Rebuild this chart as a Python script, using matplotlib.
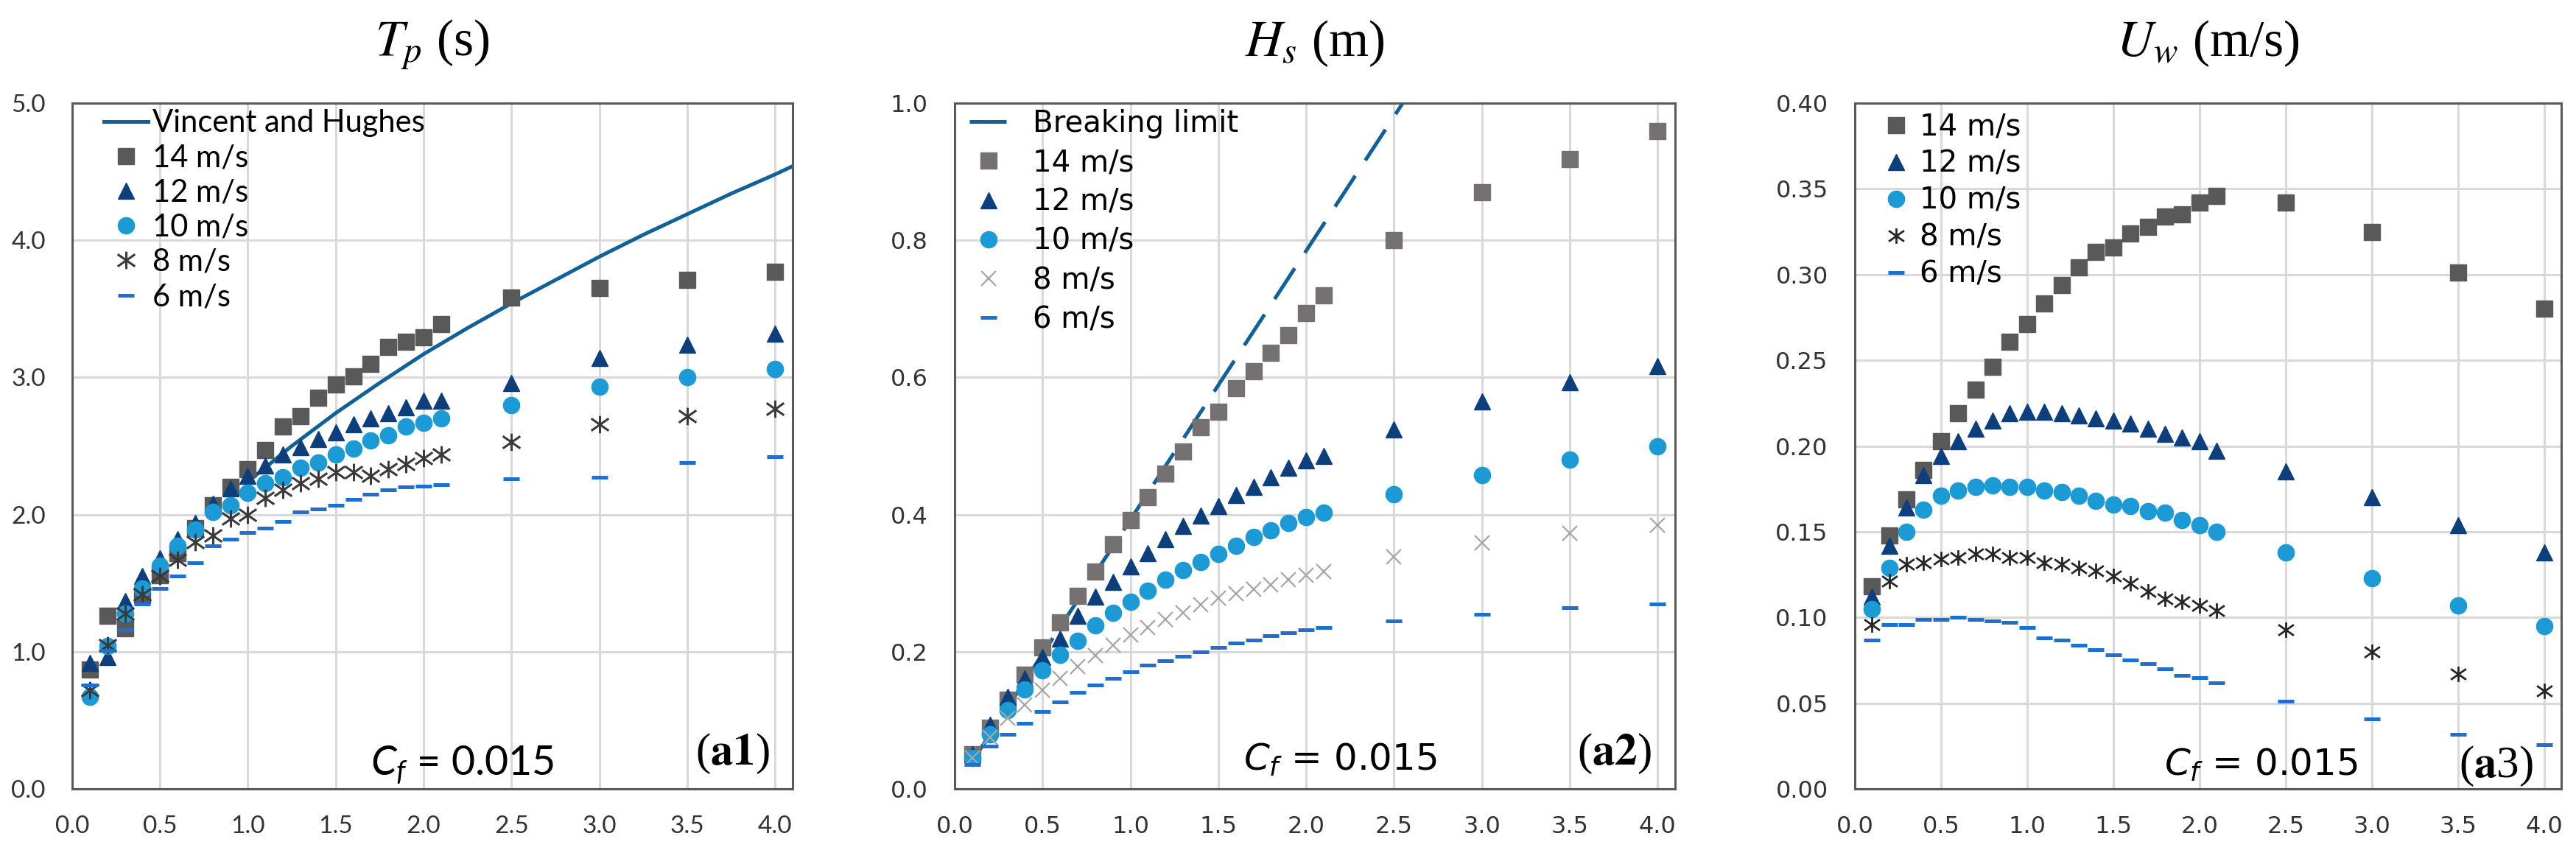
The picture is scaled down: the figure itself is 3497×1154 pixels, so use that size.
import matplotlib
matplotlib.use("Agg")
import matplotlib.pyplot as plt
from matplotlib.path import Path
from matplotlib.ticker import MultipleLocator, FormatStrFormatter

plt.rcParams['mathtext.fontset'] = 'custom'
plt.rcParams['mathtext.it'] = 'Lato:italic'
plt.rcParams['mathtext.rm'] = 'Lato'

# ---- data ----
x = [0.1, 0.2, 0.3, 0.4, 0.5, 0.6, 0.7, 0.8, 0.9, 1.0, 1.1, 1.2, 1.3, 1.4, 1.5,
     1.6, 1.7, 1.8, 1.9, 2.0, 2.1, 2.5, 3.0, 3.5, 4.0]
labels = ['14 m/s', '12 m/s', '10 m/s', '8 m/s', '6 m/s']

tp_14 = [0.87, 1.26, 1.17, 1.41, 1.56, 1.72, 1.90, 2.07, 2.20, 2.33, 2.47, 2.64, 2.72, 2.85, 2.95,
         3.01, 3.10, 3.22, 3.26, 3.29, 3.39, 3.58, 3.65, 3.71, 3.77]
tp_12 = [0.92, 0.96, 1.37, 1.55, 1.68, 1.82, 1.94, 2.08, 2.19, 2.28, 2.36, 2.44, 2.49, 2.55, 2.60,
         2.66, 2.70, 2.74, 2.78, 2.83, 2.83, 2.96, 3.14, 3.24, 3.32]
tp_10 = [0.67, 1.04, 1.28, 1.46, 1.63, 1.77, 1.89, 2.02, 2.07, 2.16, 2.23, 2.27, 2.34, 2.38, 2.44,
         2.48, 2.54, 2.58, 2.64, 2.67, 2.70, 2.80, 2.93, 3.00, 3.06]
tp_8 = [0.72, 1.05, 1.28, 1.42, 1.55, 1.67, 1.80, 1.85, 1.97, 2.00, 2.12, 2.18, 2.23, 2.26, 2.31,
        2.31, 2.28, 2.33, 2.37, 2.41, 2.44, 2.53, 2.66, 2.72, 2.77]
tp_6 = [0.76, 1.01, 1.16, 1.35, 1.46, 1.55, 1.65, 1.77, 1.82, 1.87, 1.90, 1.95, 2.02, 2.04, 2.07,
        2.11, 2.15, 2.18, 2.20, 2.21, 2.22, 2.26, 2.27, 2.38, 2.42]
vh_x = [1.0, 1.25, 1.5, 1.75, 2.0, 2.25, 2.5, 2.75, 3.0, 3.25, 3.5, 3.75, 4.0, 4.1]
vh_y = [2.24, 2.50, 2.74, 2.96, 3.17, 3.36, 3.54, 3.71, 3.88, 4.04, 4.19, 4.34, 4.48, 4.54]

hs_14 = [0.050, 0.089, 0.130, 0.167, 0.206, 0.243, 0.281, 0.317, 0.357, 0.392, 0.425, 0.460, 0.492,
         0.527, 0.550, 0.584, 0.609, 0.636, 0.662, 0.694, 0.720, 0.800, 0.870, 0.918, 0.959]
hs_12 = [0.050, 0.093, 0.134, 0.161, 0.192, 0.219, 0.252, 0.280, 0.302, 0.324, 0.344, 0.364, 0.383,
         0.398, 0.413, 0.429, 0.440, 0.454, 0.468, 0.479, 0.486, 0.524, 0.565, 0.593, 0.617]
hs_10 = [0.045, 0.079, 0.115, 0.145, 0.173, 0.195, 0.216, 0.239, 0.257, 0.273, 0.289, 0.305, 0.319,
         0.331, 0.343, 0.355, 0.367, 0.377, 0.388, 0.396, 0.403, 0.430, 0.458, 0.480, 0.500]
hs_8 = [0.045, 0.075, 0.103, 0.123, 0.144, 0.161, 0.178, 0.194, 0.209, 0.225, 0.235, 0.247, 0.257,
        0.269, 0.278, 0.285, 0.291, 0.298, 0.305, 0.312, 0.317, 0.338, 0.359, 0.373, 0.385]
hs_6 = [0.036, 0.062, 0.079, 0.096, 0.113, 0.127, 0.141, 0.151, 0.161, 0.171, 0.180, 0.187, 0.193,
        0.200, 0.206, 0.213, 0.217, 0.223, 0.228, 0.232, 0.235, 0.245, 0.255, 0.264, 0.270]
bl_x = [0.1, 2.55]
bl_y = [0.04, 1.00]

uw_14 = [0.118, 0.148, 0.169, 0.186, 0.203, 0.219, 0.233, 0.246, 0.261, 0.271, 0.283, 0.294, 0.304,
         0.313, 0.316, 0.324, 0.328, 0.334, 0.335, 0.342, 0.346, 0.342, 0.325, 0.301, 0.280]
uw_12 = [0.112, 0.142, 0.164, 0.183, 0.194, 0.203, 0.210, 0.215, 0.219, 0.220, 0.220, 0.219, 0.218,
         0.216, 0.215, 0.213, 0.210, 0.207, 0.205, 0.203, 0.197, 0.185, 0.170, 0.154, 0.138]
uw_10 = [0.105, 0.129, 0.150, 0.163, 0.171, 0.174, 0.176, 0.177, 0.176, 0.176, 0.174, 0.173, 0.171,
         0.168, 0.166, 0.165, 0.162, 0.161, 0.157, 0.154, 0.150, 0.138, 0.123, 0.107, 0.095]
uw_8 = [0.096, 0.121, 0.131, 0.132, 0.134, 0.135, 0.137, 0.137, 0.135, 0.135, 0.132, 0.131, 0.129,
        0.127, 0.124, 0.120, 0.115, 0.111, 0.109, 0.107, 0.104, 0.093, 0.080, 0.067, 0.057]
uw_6 = [0.087, 0.096, 0.096, 0.099, 0.099, 0.100, 0.099, 0.098, 0.097, 0.094, 0.088, 0.087, 0.084,
        0.081, 0.078, 0.075, 0.073, 0.070, 0.066, 0.065, 0.062, 0.051, 0.041, 0.032, 0.026]

# ---- styles ----
grey_dark = '#595959'
navy = '#0D3F7C'
sky = '#1C9AD6'
dash_blue = '#1F6FD1'
line_blue = '#10609A'
asterisk = Path([(-1, -0.7), (1, 0.7), (-1, 0.7), (1, -0.7), (0, -1), (0, 1)],
                [Path.MOVETO, Path.LINETO] * 3)

fig = plt.figure(figsize=(34.98, 11.54), dpi=100)
bottom, height = 0.0719, 0.8068
ax1 = fig.add_axes([0.0280, bottom, 0.2796, height])
ax2 = fig.add_axes([0.3705, bottom, 0.2796, height])
ax3 = fig.add_axes([0.7198, bottom, 0.2742, height])


def style_axes(ax, ymax, ystep, yfmt, font, size):
    ax.set_xlim(0, 4.1)
    ax.set_ylim(0, ymax)
    ax.xaxis.set_major_locator(MultipleLocator(0.5))
    ax.yaxis.set_major_locator(MultipleLocator(ystep))
    ax.xaxis.set_major_formatter(FormatStrFormatter('%.1f'))
    ax.yaxis.set_major_formatter(FormatStrFormatter(yfmt))
    ax.grid(True, color='#D9D9D9', linewidth=2.2, zorder=0)
    ax.set_axisbelow(True)
    ax.tick_params(length=0, pad=26, labelsize=size, labelcolor='#333333')
    for lab in ax.get_xticklabels() + ax.get_yticklabels():
        lab.set_family(font)
    for sp in ax.spines.values():
        sp.set_color(grey_dark)
        sp.set_linewidth(2.2)


def draw_series(ax, ys, colors, ast_marker, ast_size, ast_mew):
    kw = dict(linestyle='none', zorder=3)
    ax.plot(x, ys[0], marker='s', markersize=15.5, color=colors[0], label=labels[0], **kw)
    ax.plot(x, ys[1], marker='^', markersize=15.5, color=navy, label=labels[1], **kw)
    ax.plot(x, ys[2], marker='o', markersize=16, color=sky, label=labels[2], **kw)
    ax.plot(x, ys[3], marker=ast_marker, markersize=ast_size, markeredgewidth=ast_mew,
            color=colors[1], label=labels[3], **kw)
    ax.plot(x, ys[4], marker='_', markersize=16, markeredgewidth=3.6, color=dash_blue,
            label=labels[4], **kw)


def panel_tag(ax, text, xf, yf):
    ax.text(xf, yf, text, transform=ax.transAxes, fontsize=44, family='Liberation Serif',
            math_fontfamily='stix', ha='right', va='baseline')


# panel a1: Tp
style_axes(ax1, 5.0, 1.0, '%.1f', 'Lato', 24)
ax1.plot(vh_x, vh_y, color=line_blue, linewidth=3.6, label='Vincent and Hughes', zorder=2)
draw_series(ax1, [tp_14, tp_12, tp_10, tp_8, tp_6], [grey_dark, '#3A3A3A'], asterisk, 17, 2.2)
ax1.legend(loc='upper left', bbox_to_anchor=(0.035, 1.0), frameon=False, borderpad=0.2,
           borderaxespad=0, handlelength=1.45, handletextpad=0.15, labelspacing=0.22,
           prop={'family': 'Lato', 'size': 30})
ax1.text(0.414, 0.021, r'$C_f$ = 0.015', transform=ax1.transAxes, fontsize=40,
         family='Lato', math_fontfamily='custom', ha='left', va='baseline')
panel_tag(ax1, r'($\mathbf{a1}$)', 0.968, 0.036)

# panel a2: Hs
style_axes(ax2, 1.0, 0.2, '%.1f', 'DejaVu Sans', 23)
bl, = ax2.plot(bl_x, bl_y, color=line_blue, linewidth=3.6, label='Breaking limit', zorder=2)
bl.set_dashes([10, 5])
draw_series(ax2, [hs_14, hs_12, hs_10, hs_8, hs_6], ['#767171', '#A6A6A6'], 'x', 15, 1.6)
ax2.legend(loc='upper left', bbox_to_anchor=(0.012, 1.0), frameon=False, borderpad=0.2,
           borderaxespad=0, handlelength=1.3, handletextpad=0.85, labelspacing=0.33,
           prop={'family': 'DejaVu Sans', 'size': 29})
ax2.text(0.401, 0.027, r'$C_f$ = 0.015', transform=ax2.transAxes, fontsize=36,
         family='DejaVu Sans', math_fontfamily='dejavusans', ha='left', va='baseline')
panel_tag(ax2, r'($\mathbf{a2}$)', 0.967, 0.036)

# panel a3: Uw
style_axes(ax3, 0.40, 0.05, '%.2f', 'DejaVu Sans', 23)
draw_series(ax3, [uw_14, uw_12, uw_10, uw_8, uw_6], [grey_dark, '#262626'], asterisk, 15, 2.0)
ax3.legend(loc='upper left', bbox_to_anchor=(0.035, 0.995), frameon=False, borderpad=0.2,
           borderaxespad=0, handlelength=0.7, handletextpad=0.45, labelspacing=0.25,
           prop={'family': 'DejaVu Sans', 'size': 29})
ax3.text(0.438, 0.02, r'$C_f$ = 0.015', transform=ax3.transAxes, fontsize=36,
         family='DejaVu Sans', math_fontfamily='dejavusans', ha='left', va='baseline')
panel_tag(ax3, r'($\mathbf{a}$3)', 0.961, 0.017)

# titles above each panel
titles = [r'$T_p$ (s)', r'$H_s$ (m)', r'$U_w$ (m/s)']
for ax, title in zip([ax1, ax2, ax3], titles):
    pos = ax.get_position()
    fig.text(pos.x0 + pos.width / 2, 0.934, title, fontsize=50, family='Liberation Serif',
             math_fontfamily='stix', ha='center', va='baseline')

fig.savefig('out.png', dpi=100, facecolor='white')
